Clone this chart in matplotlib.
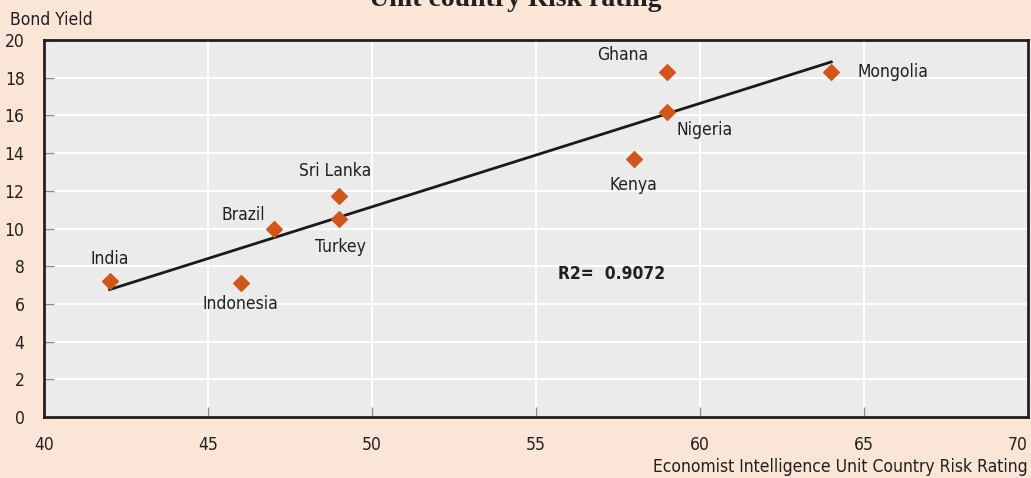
import numpy as np
import matplotlib.pyplot as plt

# Country risk rating vs bond yield
countries = ['India', 'Indonesia', 'Brazil', 'Sri Lanka', 'Turkey', 'Kenya', 'Nigeria', 'Ghana', 'Mongolia']
risk_rating = [42, 46, 47, 49, 49, 58, 59, 59, 64]
bond_yield = [7.2, 7.1, 10.0, 11.7, 10.5, 13.7, 16.2, 18.3, 18.3]
r2_label = 'R2=  0.9072'

# label offsets in points (dx, dy, horizontal alignment)
label_offsets = {
    'India': (0, 16, 'center'),
    'Indonesia': (0, -15, 'center'),
    'Brazil': (-22, 10, 'center'),
    'Sri Lanka': (-3, 18, 'center'),
    'Turkey': (1, -20, 'center'),
    'Kenya': (-1, -19, 'center'),
    'Nigeria': (27, -13, 'center'),
    'Ghana': (-32, 12, 'center'),
    'Mongolia': (19, 0, 'left'),
}

plt.rcParams['font.family'] = ['DejaVu Sans']
plt.rcParams['font.stretch'] = 'condensed'

bg = '#FBE5D6'
fig = plt.figure(figsize=(10.31, 4.78), dpi=100, facecolor=bg)
ax = fig.add_axes([0.0427, 0.1276, 0.9545, 0.7887])
ax.set_facecolor('#EBEBEB')

ax.set_xlim(40, 70)
ax.set_ylim(0, 20)
ax.set_xticks(range(40, 71, 5))
ax.set_yticks(range(0, 21, 2))
ax.grid(True, color='white', linewidth=1.5)
ax.set_axisbelow(True)

for s in ax.spines.values():
    s.set_color('#231F20')
    s.set_linewidth(2)

ax.tick_params(direction='in', length=7, width=1, color='#8C8C8C',
               labelsize=12.5, labelcolor='#231F20')
ax.tick_params(axis='x', pad=14)
ax.tick_params(axis='y', pad=14)
ax.get_xticklabels()[-1].set_horizontalalignment('right')

# linear trend line
coef = np.polyfit(risk_rating, bond_yield, 1)
xs = np.array([min(risk_rating), max(risk_rating)])
ax.plot(xs, np.polyval(coef, xs), color='#1A1A1A', linewidth=2, zorder=3)

ax.scatter(risk_rating, bond_yield, marker='D', s=64, color='#D0561B', zorder=4)

for name, x, y in zip(countries, risk_rating, bond_yield):
    dx, dy, ha = label_offsets[name]
    ax.annotate(name, (x, y), xytext=(dx, dy), textcoords='offset points',
                ha=ha, va='center', fontsize=12.5, color='#231F20')

ax.text(57.3, 7.6, r2_label, fontsize=12.5, fontweight='bold', color='#231F20',
        ha='center', va='center')

fig.text(10 / 1031, 1 - 20 / 478, 'Bond Yield', fontsize=12.5, color='#231F20',
         ha='left', va='center')
fig.text(1028 / 1031, 1 - 467 / 478, 'Economist Intelligence Unit Country Risk Rating',
         fontsize=12.5, color='#231F20', ha='right', va='center')
fig.text(515 / 1031, 1 - 6 / 478, 'Unit country Risk rating', fontsize=20,
         fontweight='bold', family='Liberation Serif', stretch='normal',
         color='#231F20', ha='center', va='baseline')

fig.savefig('out.png', dpi=100, facecolor=bg)
